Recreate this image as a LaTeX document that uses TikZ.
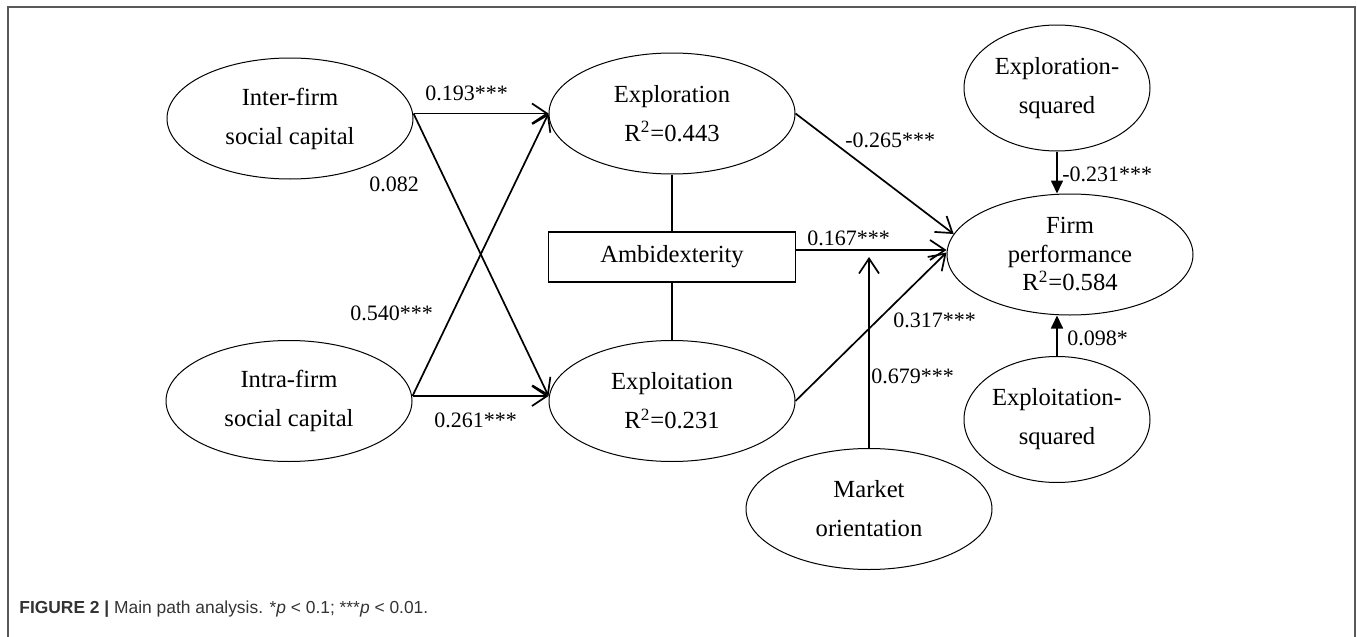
\documentclass[tikz,border=0pt]{standalone}
\usepackage{fontspec}
\setmainfont{Liberation Serif}
\newfontfamily\captionfont{Liberation Sans}
\usetikzlibrary{arrows.meta, shapes.geometric}
\tikzset{>={Straight Barb[length=7.5pt,width=10pt]}}

\begin{document}
\begin{tikzpicture}[
    x = 0.5pt,
    y = -0.5pt,
    align = center,
    latent/.style = {ellipse, draw, line width = 0.5pt, inner sep = 0pt,
      minimum width = 123pt, minimum height = 60.5pt,
      font = \fontsize{12.3}{19.5}\selectfont},
    squared/.style = {latent, minimum width = 93pt, minimum height = 63pt},
    construct/.style = {rectangle, draw, line width = 0.6pt, inner sep = 0pt,
      minimum width = 123.5pt, minimum height = 25pt,
      font = \fontsize{12.3}{19.5}\selectfont},
    coef/.style = {anchor = base west, inner sep = 0pt,
      font = \fontsize{11}{13}\selectfont},
    effect/.style = {->, line width = 0.85pt},
    squareeffect/.style = {-{Triangle[length=6.5pt,width=6pt]}, line width = 0.85pt},
    link/.style = {line width = 0.55pt},
    frame/.style = {draw = black!65, line width = 1pt}
  ]
    \useasboundingbox (0, 0) rectangle (1357, 637);
    \draw[frame] (7.5, 637) -- (7.5, 6.5) -- (1354.5, 6.5) -- (1354.5, 637);

    \node[latent] (inter_firm) at (290, 118.5) {Inter-firm\\social capital};
    \node[latent] (intra_firm) at (289, 401) {Intra-firm\\social capital};
    \node[latent] (exploration) at (672, 113.5) {Exploration\\R\textsuperscript{2}=0.443};
    \node[construct] (ambidexterity) at (672, 257) {Ambidexterity};
    \node[latent] (exploitation) at (672, 401) {Exploitation\\R\textsuperscript{2}=0.231};
    \node[squared] (exploration_sq) at (1057, 88) {Exploration-\\squared};
    \node[latent, font = \fontsize{12.3}{14.25}\selectfont] (firm_performance) at (1070, 254.5)
      {Firm\\performance\\R\textsuperscript{2}=0.584};
    \node[squared] (exploitation_sq) at (1057, 419.5) {Exploitation-\\squared};
    \node[latent] (market_orientation) at (869, 509) {Market\\orientation};

    \draw[effect] ([yshift=2.5pt]inter_firm.east) -- (exploration.west);
    \draw[effect] ([yshift=2.5pt]inter_firm.east) -- ([yshift=2.5pt]exploitation.west);
    \draw[effect] ([yshift=2.5pt]intra_firm.east) -- (exploration.west);
    \draw[effect] ([yshift=2.5pt]intra_firm.east) -- ([yshift=2.5pt]exploitation.west);
    \draw[link] (exploration.south) -- (ambidexterity.north);
    \draw[link] (ambidexterity.south) -- (exploitation.north);
    \draw[effect] (exploration.east) -- (firm_performance.170);
    \draw[effect] ([yshift=3.5pt]ambidexterity.east) -- ([yshift=2.25pt]firm_performance.west);
    \draw[effect] (exploitation.east) -- ([yshift=1pt]firm_performance.west);
    \draw[effect] (market_orientation.north) -- (market_orientation.north |- ambidexterity.east);
    \draw[squareeffect] (exploration_sq.south) -- (exploration_sq.south |- firm_performance.north);
    \draw[squareeffect] (exploitation_sq.north) -- (exploitation_sq.north |- firm_performance.south);

    \node[coef] (c_inter_explor) at (425, 100) {0.193***};
    \node[coef] (c_inter_exploit) at (369, 191) {0.082};
    \node[coef] (c_intra_explor) at (350, 320) {0.540***};
    \node[coef] (c_intra_exploit) at (434, 427) {0.261***};
    \node[coef] (c_explor_perf) at (845, 148) {-0.265***};
    \node[coef] (c_ambi_perf) at (807, 245) {0.167***};
    \node[coef] (c_exploit_perf) at (893, 327) {0.317***};
    \node[coef] (c_market) at (871, 383) {0.679***};
    \node[coef] (c_explor_sq) at (1062, 181) {-0.231***};
    \node[coef] (c_exploit_sq) at (1067, 345) {0.098*};

    \node[anchor = base west, inner sep = 0pt, text = black!80,
      font = \captionfont\fontsize{8.7}{10}\selectfont] (caption) at (19, 613)
      {\textbf{FIGURE 2 |} Main path analysis. *\textit{p} < 0.1; ***\textit{p} < 0.01.};
  \end{tikzpicture}
\end{document}
